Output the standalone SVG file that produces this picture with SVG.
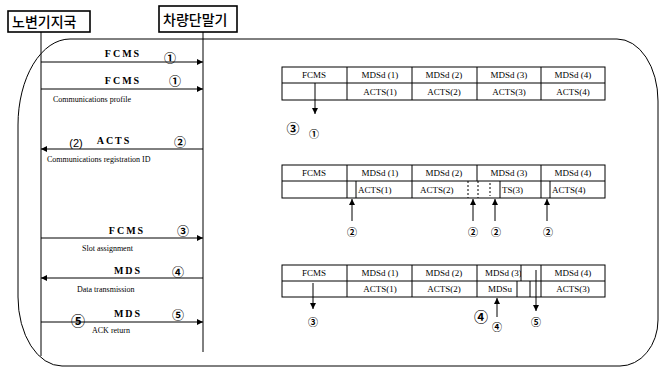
<svg xmlns="http://www.w3.org/2000/svg" width="665" height="369" viewBox="0 0 665 369">
<defs>
<marker id="ah" viewBox="0 0 10 10" refX="10" refY="5" markerWidth="7" markerHeight="6" markerUnits="userSpaceOnUse" orient="auto">
<path d="M0,0 L10,5 L0,10 z" fill="#000"/>
</marker>
<style>
.ln{stroke:#000;stroke-width:1;fill:none}
.bx{stroke:#000;stroke-width:1.6;fill:#fff}
.kr{font-family:"Noto Sans CJK KR","Noto Sans",sans-serif;font-size:14px;font-weight:500;fill:#000}
.msg{font-family:"Liberation Serif",serif;font-size:10px;font-weight:bold;letter-spacing:2px;fill:#000;text-anchor:middle}
.sm{font-family:"Liberation Serif",serif;font-size:8px;fill:#000}
.tb{font-family:"Liberation Serif",serif;font-size:9px;fill:#000;text-anchor:middle}
.tl{font-family:"Liberation Serif",serif;font-size:9px;fill:#000}
.cn{font-family:"Noto Sans CJK KR",sans-serif;font-size:12px;font-weight:bold;fill:#000;text-anchor:middle}
.cs{font-family:"Noto Sans CJK KR",sans-serif;font-size:10px;font-weight:bold;fill:#000;text-anchor:middle}
.arr{stroke:#000;stroke-width:1;fill:none;marker-end:url(#ah)}
.dash{stroke:#000;stroke-width:1;stroke-dasharray:2 2;fill:none}
</style>
</defs>
<rect width="665" height="369" fill="#fff"/>

<!-- outer rounded frame -->
<path class="ln" d="M18,297 L18,125 A52,86 0 0 1 70,39 L617,39 A41,62 0 0 1 658,101 L658,320 A38,46 0 0 1 620,366 L62,366 A44,69 0 0 1 18,297 Z"/>

<!-- lifeline nodes -->
<g id="roadside">
<line class="ln" x1="41" y1="32" x2="41" y2="356"/>
<rect class="bx" x="8" y="11" width="82" height="21"/>
<text class="kr" x="12" y="27">노변기지국</text>
</g>
<g id="vehicle">
<line class="ln" x1="203" y1="32" x2="203" y2="352"/>
<rect class="bx" x="159" y="6" width="78" height="26"/>
<text class="kr" x="163" y="25">차량단말기</text>
</g>

<!-- message connectors -->
<g id="connectors">
<line class="arr" x1="41" y1="62" x2="203" y2="62"/>
<line class="arr" x1="41" y1="89" x2="203" y2="89"/>
<line class="arr" x1="203" y1="149" x2="41" y2="149"/>
<line class="arr" x1="41" y1="238" x2="203" y2="238"/>
<line class="arr" x1="203" y1="278" x2="41" y2="278"/>
<line class="arr" x1="41" y1="322" x2="203" y2="322"/>
</g>

<g id="msg-labels">
<text class="msg" x="123" y="57">FCMS</text>
<text class="cn" x="170" y="63">①</text>
<text class="msg" x="123" y="84">FCMS</text>
<text class="cn" x="175" y="86">①</text>
<text class="sm" x="53" y="102">Communications profile</text>
<text class="cn" x="76" y="147" style="font-family:'Liberation Sans',sans-serif;font-size:11px;font-weight:normal">(2)</text>
<text class="msg" x="114" y="144">ACTS</text>
<text class="cn" x="180" y="147">②</text>
<text class="sm" x="47" y="162">Communications registration ID</text>
<text class="msg" x="127" y="234">FCMS</text>
<text class="cn" x="183" y="236">③</text>
<text class="sm" x="82" y="251">Slot assignment</text>
<text class="msg" x="128" y="274">MDS</text>
<text class="cn" x="178" y="277">④</text>
<text class="sm" x="77" y="292">Data transmission</text>
<text class="cn" x="78" y="326" style="font-size:14px">⑤</text>
<text class="msg" x="128" y="317">MDS</text>
<text class="cn" x="178" y="320">⑤</text>
<text class="sm" x="92" y="333">ACK return</text>
</g>

<!-- Table 1 -->
<g id="table1">
<rect class="ln" x="282" y="67" width="323" height="33"/>
<line class="ln" x1="282" y1="83" x2="605" y2="83"/>
<line class="ln" x1="347" y1="67" x2="347" y2="100"/>
<line class="ln" x1="412" y1="67" x2="412" y2="100"/>
<line class="ln" x1="477" y1="67" x2="477" y2="100"/>
<line class="ln" x1="541" y1="67" x2="541" y2="100"/>
<text class="tb" x="314" y="78">FCMS</text>
<text class="tb" x="380" y="78">MDSd (1)</text>
<text class="tb" x="444" y="78">MDSd (2)</text>
<text class="tb" x="509" y="78">MDSd (3)</text>
<text class="tb" x="573" y="78">MDSd (4)</text>
<text class="tb" x="380" y="95">ACTS(1)</text>
<text class="tb" x="444" y="95">ACTS(2)</text>
<text class="tb" x="509" y="95">ACTS(3)</text>
<text class="tb" x="573" y="95">ACTS(4)</text>
<line class="arr" x1="315" y1="83" x2="315" y2="114"/>
<text class="cn" x="293" y="133" style="font-size:13px">③</text>
<text class="cs" x="314" y="138">①</text>
</g>

<!-- Table 2 -->
<g id="table2">
<rect class="ln" x="282" y="165" width="323" height="33"/>
<line class="ln" x1="282" y1="181" x2="605" y2="181"/>
<line class="ln" x1="347" y1="165" x2="347" y2="198"/>
<line class="ln" x1="412" y1="165" x2="412" y2="198"/>
<line class="ln" x1="477" y1="165" x2="477" y2="181"/>
<line class="ln" x1="541" y1="165" x2="541" y2="198"/>
<line class="ln" x1="356" y1="181" x2="356" y2="198"/>
<line class="dash" x1="468" y1="181" x2="468" y2="198"/>
<line class="dash" x1="478" y1="181" x2="478" y2="198"/>
<line class="dash" x1="490" y1="183" x2="490" y2="196"/>
<line class="ln" x1="500" y1="181" x2="500" y2="198"/>
<line class="ln" x1="550" y1="181" x2="550" y2="198"/>
<text class="tb" x="314" y="176">FCMS</text>
<text class="tb" x="380" y="176">MDSd (1)</text>
<text class="tb" x="444" y="176">MDSd (2)</text>
<text class="tb" x="509" y="176">MDSd (3)</text>
<text class="tb" x="573" y="176">MDSd (4)</text>
<text class="tl" x="358" y="193">ACTS(1)</text>
<text class="tl" x="420" y="193">ACTS(2)</text>
<text class="tl" x="502" y="193">TS(3)</text>
<text class="tl" x="552" y="193">ACTS(4)</text>
<line class="arr" x1="352" y1="221" x2="352" y2="199"/>
<line class="arr" x1="473" y1="221" x2="473" y2="199"/>
<line class="arr" x1="495" y1="221" x2="495" y2="199"/>
<line class="arr" x1="547" y1="221" x2="547" y2="199"/>
<text class="cs" x="352" y="236">②</text>
<text class="cs" x="473" y="236">②</text>
<text class="cs" x="496" y="236">②</text>
<text class="cs" x="548" y="236">②</text>
</g>

<!-- Table 3 -->
<g id="table3">
<rect class="ln" x="282" y="265" width="323" height="32"/>
<line class="ln" x1="282" y1="281" x2="605" y2="281"/>
<line class="ln" x1="347" y1="265" x2="347" y2="297"/>
<line class="ln" x1="412" y1="265" x2="412" y2="297"/>
<line class="ln" x1="477" y1="265" x2="477" y2="297"/>
<line class="ln" x1="541" y1="265" x2="541" y2="297"/>
<text class="tb" x="314" y="276">FCMS</text>
<text class="tb" x="380" y="276">MDSd (1)</text>
<text class="tb" x="444" y="276">MDSd (2)</text>
<text class="tl" x="485" y="276">MDSd (3)</text>
<rect x="521" y="266" width="19" height="14" fill="#fff"/>
<line class="ln" x1="521" y1="265" x2="521" y2="281"/>
<text class="tb" x="573" y="276">MDSd (4)</text>
<text class="tb" x="380" y="292">ACTS(1)</text>
<text class="tb" x="444" y="292">ACTS(2)</text>
<text class="tl" x="488" y="292">MDSu</text>
<line class="ln" x1="517" y1="281" x2="517" y2="297"/>
<line class="ln" x1="530" y1="281" x2="530" y2="297"/>
<text class="tb" x="573" y="292">ACTS(3)</text>
<line class="arr" x1="313" y1="283" x2="313" y2="309"/>
<text class="cs" x="313" y="326">③</text>
<line class="arr" x1="497" y1="317" x2="497" y2="298"/>
<text class="cn" x="481" y="322" style="font-size:14px">④</text>
<text class="cs" x="497" y="331">④</text>
<line class="arr" x1="536" y1="270" x2="536" y2="311"/>
<text class="cs" x="536" y="326">⑤</text>
</g>
</svg>
